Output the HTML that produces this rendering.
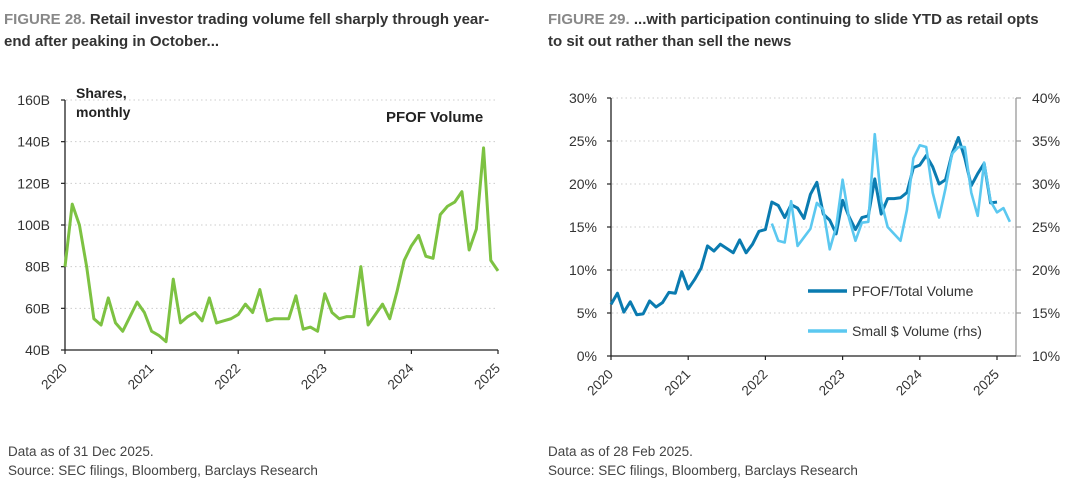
<!DOCTYPE html>
<html><head><meta charset="utf-8"><style>
body{margin:0;background:#fff;}
svg{display:block;font-family:"Liberation Sans",sans-serif;}
</style></head><body>
<svg id="s" width="1080" height="488" viewBox="0 0 1080 488">
<g font-size="15" font-weight="bold" fill="#333">
<text x="4" y="24"><tspan fill="#888">FIGURE 28.</tspan> Retail investor trading volume fell sharply through year-</text>
<text x="4" y="46">end after peaking in October...</text>
</g>
<g font-size="15" font-weight="bold" fill="#333">
<text x="548" y="24"><tspan fill="#888">FIGURE 29.</tspan> ...with participation continuing to slide YTD as retail opts</text>
<text x="548" y="46">to sit out rather than sell the news</text>
</g>
<g font-size="13.5" fill="#444">
<text x="8" y="456">Data as of 31 Dec 2025.</text>
<text x="8" y="475">Source: SEC filings, Bloomberg, Barclays Research</text>
</g>
<g font-size="13.5" fill="#444">
<text x="548" y="456">Data as of 28 Feb 2025.</text>
<text x="548" y="475">Source: SEC filings, Bloomberg, Barclays Research</text>
</g>
<text x="76" y="98" font-size="14" font-weight="bold" fill="#222">Shares,</text>
<text x="76" y="117" font-size="14" font-weight="bold" fill="#222">monthly</text>
<text x="386" y="122" font-size="15" font-weight="bold" fill="#222">PFOF Volume</text>
<g id="L"></g><g id="R"></g>
</svg>
<script>
const pfofVolume=[80,110,100,80,55,52,65,53,49,56,63,58,49,47,44,74,53,56,58,54,65,53,54,55,57,62,58,69,54,55,55,55,66,50,51,49,67,58,55,56,56,80,52,57,62,55,68,83,90,95,85,84,105,109,111,116,88,98,137,83,78];
const leftTicks=[40,60,80,100,120,140,160];
const years=["2020","2021","2022","2023","2024","2025"];
const pfofShare=[6,7.3,5.1,6.3,4.8,4.9,6.4,5.7,6.2,7.4,7.3,9.8,7.8,8.9,10.2,12.8,12.2,13.0,12.5,12.0,13.5,12.0,13.0,14.5,14.7,17.9,17.5,16.1,17.6,17.2,16.0,18.8,20.2,16.5,15.8,14.2,18.1,16.2,14.7,16.1,16.3,20.6,16.5,18.3,18.3,18.4,19.0,21.9,22.2,23.3,22.0,20.0,20.5,23.5,25.4,23.0,19.8,21.2,22.4,17.8,17.9];
const smallStart=25;
const smallVolume=[25.4,23.4,23.2,28.0,22.8,23.8,24.8,27.8,27.0,22.4,25.0,30.5,26.0,23.4,25.5,25.6,35.8,28.0,25.0,24.2,23.4,27.0,33.0,34.5,34.3,29.0,26.1,29.5,33.5,34.3,34.3,29.0,26.3,32.5,28.0,26.7,27.2,25.6];
const rTicksL=[0,5,10,15,20,25,30];
const rTicksR=[10,15,20,25,30,35,40];
const NS="http://www.w3.org/2000/svg";
function mk(p,t,a){const e=document.createElementNS(NS,t);for(const k in a)e.setAttribute(k,a[k]);p.appendChild(e);return e;}
// left chart
const L=document.getElementById('L');
const lx=m=>65+m*(498-65)/60, ly=v=>350-(v-40)*250/120;
leftTicks.forEach(v=>{
 if(v>40){const g=mk(L,'line',{x1:66,x2:498,y1:ly(v),y2:ly(v),stroke:'#ccc','stroke-dasharray':'1.5 3'});
 
 }
 const t=mk(L,'text',{x:50,y:ly(v)+5,'text-anchor':'end','font-size':14,fill:'#333'});t.textContent=v+'B';
 
 
 mk(L,'line',{x1:61,x2:65,y1:ly(v),y2:ly(v),stroke:'#222','stroke-width':1.2});
});
mk(L,'line',{x1:65,x2:65,y1:100,y2:350,stroke:'#222','stroke-width':1.3});
mk(L,'line',{x1:65,x2:498,y1:350,y2:350,stroke:'#222','stroke-width':1.3});
years.forEach((y,i)=>{const x=lx(i*12);
 mk(L,'line',{x1:x,x2:x,y1:350,y2:354,stroke:'#222','stroke-width':1.2});
 const t=mk(L,'text',{x:x+3,y:369,'text-anchor':'end','font-size':13.5,fill:'#333',transform:`rotate(-45 ${x+3} 369)`});t.textContent=y;
 
 });
const lp=mk(L,'polyline',{points:pfofVolume.map((v,i)=>lx(i)+','+ly(v)).join(' '),fill:'none',stroke:'#7dc242','stroke-width':3,'stroke-linejoin':'round'});


// right chart
const R=document.getElementById('R');
const rx=m=>611+m*(997-611)/60, ryl=v=>356-v*258/30, ryr=v=>356-(v-10)*258/30;
rTicksL.forEach((v,i)=>{
 if(v>0){const g=mk(R,'line',{x1:612,x2:1016,y1:ryl(v),y2:ryl(v),stroke:'#ccc','stroke-dasharray':'1.5 3'});
 
 }
 const t=mk(R,'text',{x:597,y:ryl(v)+5,'text-anchor':'end','font-size':14,fill:'#333'});t.textContent=v+'%';
 
 
 mk(R,'line',{x1:607,x2:611,y1:ryl(v),y2:ryl(v),stroke:'#222','stroke-width':1.2});
 const t2=mk(R,'text',{x:1032,y:ryr(rTicksR[i])+5,'font-size':14,fill:'#333'});t2.textContent=rTicksR[i]+'%';
 
 
 mk(R,'line',{x1:1016,x2:1021,y1:ryr(rTicksR[i]),y2:ryr(rTicksR[i]),stroke:'#999','stroke-width':1.2});
});
mk(R,'line',{x1:611,x2:611,y1:98,y2:356,stroke:'#222','stroke-width':1.3});
mk(R,'line',{x1:1016,x2:1016,y1:98,y2:356,stroke:'#999','stroke-width':1.3});
mk(R,'line',{x1:611,x2:1016,y1:356,y2:356,stroke:'#222','stroke-width':1.3});
years.forEach((y,i)=>{const x=rx(i*12);
 mk(R,'line',{x1:x,x2:x,y1:356,y2:360,stroke:'#222','stroke-width':1.2});
 const t=mk(R,'text',{x:x+3,y:375,'text-anchor':'end','font-size':13.5,fill:'#333',transform:`rotate(-45 ${x+3} 375)`});t.textContent=y;
 
 });
const p1=mk(R,'polyline',{points:pfofShare.map((v,i)=>rx(i)+','+ryl(v)).join(' '),fill:'none',stroke:'#0a7bb0','stroke-width':3,'stroke-linejoin':'round'});


const p2=mk(R,'polyline',{points:smallVolume.map((v,i)=>rx(i+smallStart)+','+ryr(v)).join(' '),fill:'none',stroke:'#5bc8f0','stroke-width':2.6,'stroke-linejoin':'round'});


// legend
const lg=mk(R,'g',{});


mk(lg,'line',{x1:808,x2:847,y1:291,y2:291,stroke:'#0a7bb0','stroke-width':3.5});
let t=mk(lg,'text',{x:852,y:296,'font-size':14,fill:'#333'});t.textContent='PFOF/Total Volume';


mk(lg,'line',{x1:808,x2:847,y1:331,y2:331,stroke:'#5bc8f0','stroke-width':3.5});
t=mk(lg,'text',{x:852,y:336,'font-size':14,fill:'#333'});t.textContent='Small $ Volume (rhs)';


</script>
</body></html>
